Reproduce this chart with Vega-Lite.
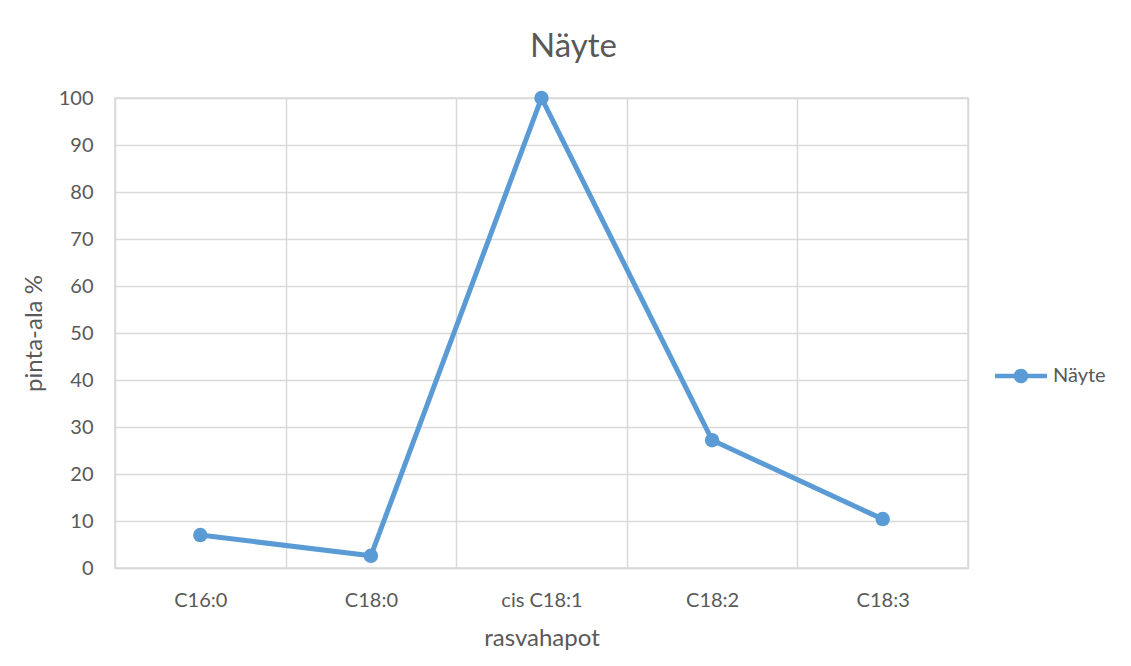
{
  "$schema": "https://vega.github.io/schema/vega-lite/v6.json",
  "width": 853,
  "height": 470,
  "autosize": {"type": "none"},
  "padding": {"left": 115, "top": 98, "right": 163, "bottom": 98},
  "background": "white",
  "title": {
    "text": "Näyte",
    "font": "Lato",
    "fontSize": 33,
    "fontWeight": "normal",
    "color": "#595959",
    "anchor": "middle",
    "dx": 32,
    "offset": 24
  },
  "data": {
    "values": [
      {"rasvahappo": "C16:0", "osuus": 7.0, "sarja": "Näyte"},
      {"rasvahappo": "C18:0", "osuus": 2.6, "sarja": "Näyte"},
      {"rasvahappo": "cis C18:1", "osuus": 100, "sarja": "Näyte"},
      {"rasvahappo": "C18:2", "osuus": 27.2, "sarja": "Näyte"},
      {"rasvahappo": "C18:3", "osuus": 10.4, "sarja": "Näyte"}
    ]
  },
  "mark": {
    "type": "line",
    "strokeWidth": 5,
    "point": {"size": 210, "filled": true, "opacity": 1}
  },
  "encoding": {
    "x": {
      "field": "rasvahappo",
      "type": "nominal",
      "sort": null,
      "bandPosition": 0.5,
      "scale": {"type": "band", "paddingInner": 0, "paddingOuter": 0},
      "title": "rasvahapot",
      "axis": {
        "tickBand": "extent",
        "labelAngle": 0,
        "labelPadding": 22,
        "ticks": false,
        "grid": true,
        "gridColor": "#d9d9d9",
        "gridWidth": 1.5,
        "domainColor": "#d9d9d9",
        "domainWidth": 1.5,
        "labelFont": "Lato",
        "labelFontSize": 20,
        "labelColor": "#595959",
        "titleFont": "Lato",
        "titleFontSize": 24,
        "titleFontWeight": "normal",
        "titleColor": "#595959",
        "titlePadding": 16
      }
    },
    "y": {
      "field": "osuus",
      "type": "quantitative",
      "scale": {"domain": [0, 100], "nice": false},
      "title": "pinta-ala %",
      "axis": {
        "values": [0, 10, 20, 30, 40, 50, 60, 70, 80, 90, 100],
        "ticks": false,
        "domain": false,
        "grid": true,
        "gridColor": "#d9d9d9",
        "gridWidth": 1.5,
        "labelPadding": 22,
        "labelFont": "Lato",
        "labelFontSize": 20,
        "labelColor": "#595959",
        "titleFont": "Lato",
        "titleFontSize": 24,
        "titleFontWeight": "normal",
        "titleColor": "#595959",
        "titlePadding": 12
      }
    },
    "color": {
      "field": "sarja",
      "type": "nominal",
      "scale": {"range": ["#5b9bd5"]},
      "legend": {
        "title": null,
        "orient": "none",
        "legendX": 880,
        "legendY": 252,
        "symbolType": "M-1,-0.09H1V0.09H-1Z M-0.28,0A0.28,0.28 0 1,1 0.28,0A0.28,0.28 0 1,1 -0.28,0Z",
        "symbolFillColor": "#5b9bd5",
        "symbolStrokeWidth": 0,
        "symbolSize": 2700,
        "labelFont": "Lato",
        "labelFontSize": 20,
        "labelColor": "#595959",
        "labelOffset": 6
      }
    }
  },
  "config": {
    "view": {"stroke": "#d9d9d9", "strokeWidth": 1.5}
  }
}
